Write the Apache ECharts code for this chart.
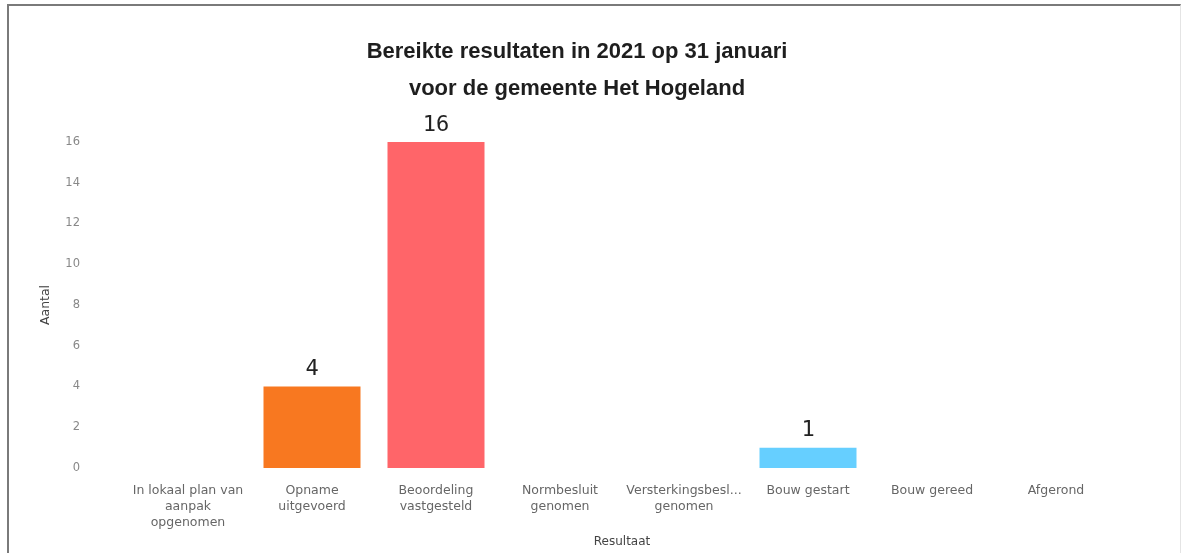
<!DOCTYPE html>
<html>
<head>
<meta charset="utf-8">
<script src="https://cdn.jsdelivr.net/npm/echarts@6/dist/echarts.min.js"></script>
<style>
  html, body { margin: 0; padding: 0; background: #fff; overflow: hidden; }
  #frame {
    position: absolute; left: 7px; top: 4px; width: 1174px; height: 549px;
    border-left: 2px solid #7a7a7a; border-top: 2px solid #7a7a7a;
    border-right: 1px solid #e4e4e4; box-sizing: border-box;
  }
  #chart { position: absolute; left: 0; top: 0; width: 1184px; height: 553px; }
</style>
</head>
<body>
<div id="frame"></div>
<div id="chart"></div>
<script>
const categories = [
  "In lokaal plan van aanpak opgenomen",
  "Opname uitgevoerd",
  "Beoordeling vastgesteld",
  "Normbesluit genomen",
  "Versterkingsbesluit genomen",
  "Bouw gestart",
  "Bouw gereed",
  "Afgerond",
];
const tickLabels = [
  "In lokaal plan van\naanpak\nopgenomen",
  "Opname\nuitgevoerd",
  "Beoordeling\nvastgesteld",
  "Normbesluit\ngenomen",
  "Versterkingsbesl...\ngenomen",
  "Bouw gestart",
  "Bouw gereed",
  "Afgerond",
];
const values = [0, 4, 16, 0, 0, 1, 0, 0];
const barColors = ["#5b8ff9", "#f87820", "#ff6569", "#999", "#999", "#66cfff", "#999", "#999"];

const chart = echarts.init(document.getElementById("chart"));

chart.setOption({
  animation: false,
  title: {
    text: "Bereikte resultaten in 2021 op 31 januari\nvoor de gemeente Het Hogeland",
    left: 572,
    top: 28,
    textAlign: "center",
    textStyle: {
      fontFamily: "Liberation Sans",
      fontSize: 22,
      fontWeight: "bold",
      color: "#1e1e1e",
      lineHeight: 37,
    },
  },
  grid: { left: 126, right: 66, top: 142, bottom: 80 },
  xAxis: {
    type: "category",
    data: categories,
    name: "Resultaat",
    nameLocation: "middle",
    nameGap: 68,
    nameTextStyle: { fontFamily: "DejaVu Sans", fontSize: 12, color: "#444" },
    axisLine: { show: false },
    axisTick: { show: false },
    axisLabel: {
      interval: 0,
      margin: 15,
      fontFamily: "DejaVu Sans",
      fontSize: 12.5,
      color: "#666",
      lineHeight: 16,
      formatter: (v, i) => tickLabels[i],
    },
  },
  yAxis: {
    type: "value",
    min: 0,
    max: 16,
    interval: 2,
    name: "Aantal",
    nameLocation: "middle",
    nameGap: 74,
    nameTextStyle: { fontFamily: "DejaVu Sans", fontSize: 12.5, color: "#444" },
    splitLine: { show: false },
    axisLabel: { margin: 46, fontFamily: "DejaVu Sans", fontSize: 11.5, color: "#888" },
  },
  series: [
    {
      type: "bar",
      barWidth: 97,
      data: values.map((v, i) => ({
        value: v,
        itemStyle: { color: barColors[i] },
        label: { show: v > 0 },
      })),
      label: {
        position: "top",
        distance: 6,
        fontFamily: "DejaVu Sans Mono",
        fontSize: 22,
        color: "#222",
      },
    },
  ],
});
</script>
</body>
</html>
